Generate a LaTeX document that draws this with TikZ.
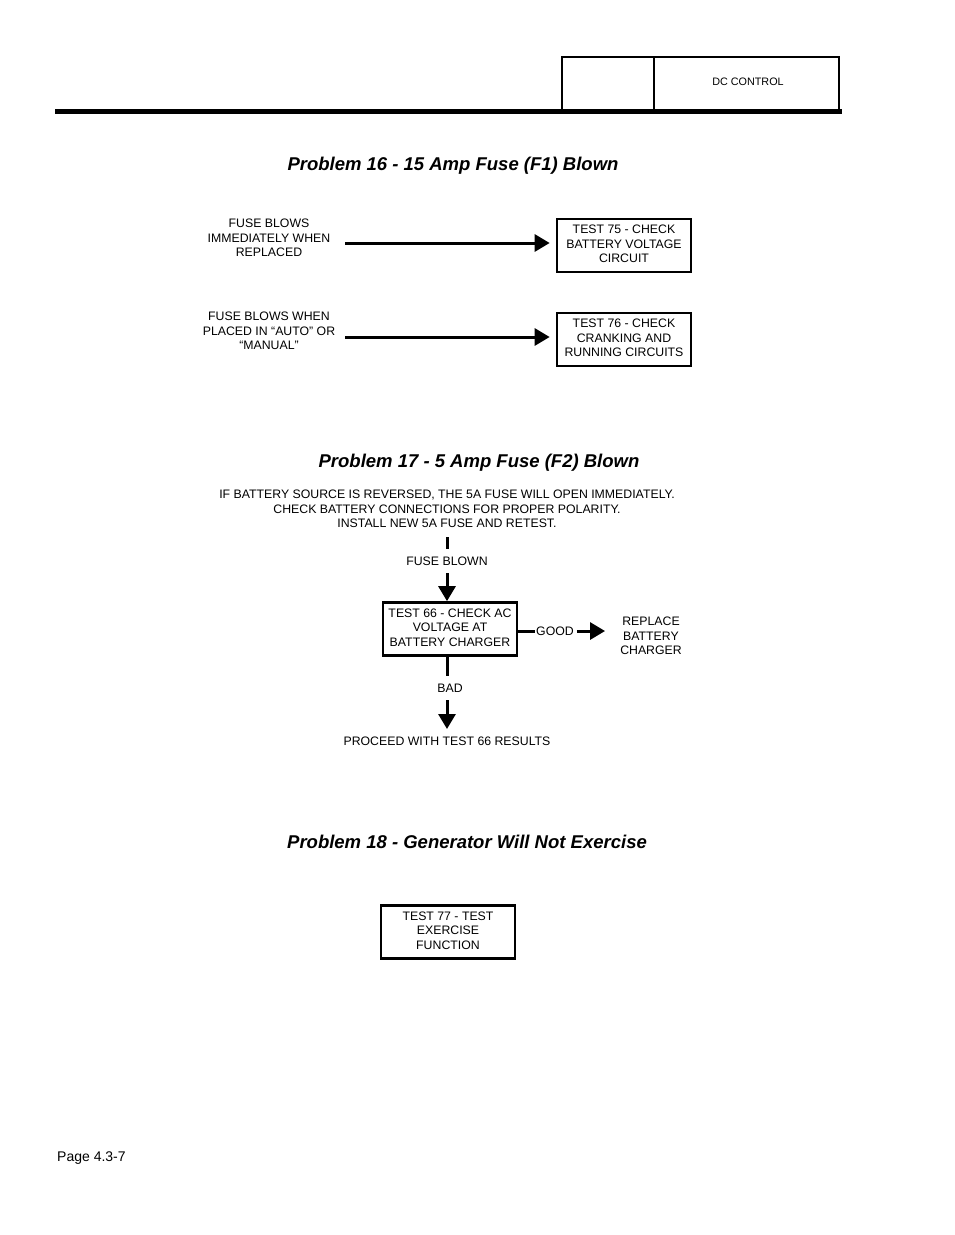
\documentclass[tikz,border=0pt]{standalone}
\usepackage{fontspec}
\setmainfont{Liberation Sans}
\usetikzlibrary{arrows.meta}
\newcommand{\boxtext}[1]{\raisebox{2pt}{\begin{tabular}{@{}c@{}}#1\end{tabular}}}
\begin{document}
\begin{tikzpicture}[x=1pt,y=-1pt,
  txt/.style={align=center,inner sep=0pt,font=\fontsize{12.3}{14.5}\selectfont},
  title/.style={inner sep=0pt,font=\fontsize{18.5}{20}\selectfont\bfseries\itshape},
  tbox/.style={draw,line width=2.7pt,minimum width=134pt,minimum height=53pt,inner sep=0pt,font=\fontsize{12.3}{14.5}\selectfont},
  arr/.style={line width=3pt,-{Triangle[length=15pt,width=17pt]}},
  ln/.style={line width=3pt}]
\useasboundingbox (0,0) rectangle (954,1235);
% header
\draw[line width=5pt] (55,111) -- (842,111);
\draw[line width=2pt] (562,111) -- (562,57) -- (839,57) -- (839,111);
\draw[line width=2pt] (654,57) -- (654,111);
\node[inner sep=0pt,font=\fontsize{10.8}{12}\selectfont] (hdr) at (748,82) {DC CONTROL};
% Problem 16
\node[title] (t16) at (453,166) {Problem 16 - 15 Amp Fuse (F1) Blown};
\node[txt] (a1) at (269,238) {FUSE BLOWS\\IMMEDIATELY WHEN\\REPLACED};
\node[tbox] (b75) at (624,245.5) {\boxtext{TEST 75 - CHECK\\BATTERY VOLTAGE\\CIRCUIT}};
\coordinate (s1) at (345,243);
\draw[arr] (s1) -- ([xshift=-6pt]b75.west |- s1);
\node[txt] (a2) at (269,331) {FUSE BLOWS WHEN\\PLACED IN “AUTO” OR\\“MANUAL”};
\node[tbox] (b76) at (624,339.5) {\boxtext{TEST 76 - CHECK\\CRANKING AND\\RUNNING CIRCUITS}};
\coordinate (s2) at (345,337);
\draw[arr] (s2) -- ([xshift=-6pt]b76.west |- s2);
% Problem 17
\node[title] (t17) at (479,463) {Problem 17 - 5 Amp Fuse (F2) Blown};
\node[txt] (note) at (447,509) {IF BATTERY SOURCE IS REVERSED, THE 5A FUSE WILL OPEN IMMEDIATELY.\\CHECK BATTERY CONNECTIONS FOR PROPER POLARITY.\\INSTALL NEW 5A FUSE AND RETEST.};
\coordinate (k1) at (447,537);
\coordinate (k2) at (447,549);
\draw[ln] (k1) -- (k2);
\node[txt] (fb) at (447,561.5) {FUSE BLOWN};
\node[tbox] (b66) at (450,629) {\boxtext{TEST 66 - CHECK AC\\VOLTAGE AT\\BATTERY CHARGER}};
\coordinate (k3) at (447,573);
\draw[arr] (k3) -- (k3 |- b66.north);
\node[txt] (good) at (555,631) {GOOD};
\draw[ln] (b66.east |- good) -- ([xshift=-1pt]good.west);
\node[txt] (rep) at (651,636) {REPLACE\\BATTERY\\CHARGER};
\draw[arr] ([xshift=3pt]good.east) -- ([xshift=-15pt]rep.west |- good);
\node[txt] (bad) at (450,688.5) {BAD};
\coordinate (k4) at (447,676);
\draw[ln] (k4 |- b66.south) -- (k4);
\node[txt] (proc) at (447,741) {PROCEED WITH TEST 66 RESULTS};
\coordinate (k5) at (447,700);
\draw[arr] (k5) -- (447,729);
% Problem 18
\node[title] (t18) at (467,842) {Problem 18 - Generator Will Not Exercise};
\node[tbox] (b77) at (448,932) {\boxtext{TEST 77 - TEST\\EXERCISE\\FUNCTION}};
% footer
\node[inner sep=0pt,anchor=west,font=\fontsize{14}{16}\selectfont] (pg) at (57,1158) {Page 4.3-7};
\end{tikzpicture}
\end{document}
